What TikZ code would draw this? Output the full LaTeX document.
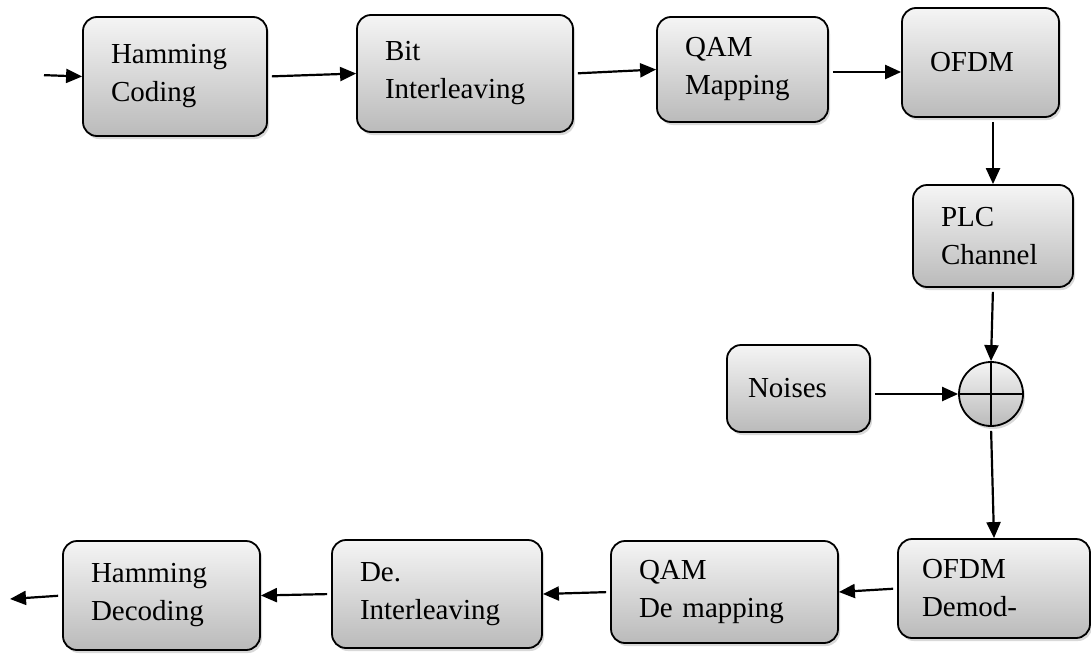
\documentclass[tikz,border=0pt]{standalone}
\usepackage{fontspec}
\setmainfont{Liberation Serif}
\usetikzlibrary{arrows.meta,shadows}

\begin{document}
\begin{tikzpicture}[
  x=0.5pt, y=-0.5pt,
  font=\fontsize{14.5}{19}\selectfont,
  box/.style={draw, line width=0.9pt, rounded corners=7pt, align=left,
    inner xsep=14pt, inner ysep=2pt, top color=black!4, bottom color=black!27,
    drop shadow={shadow xshift=1pt, shadow yshift=-1.5pt, opacity=0.3}},
  sumnode/.style={draw, circle, line width=0.9pt, minimum size=32pt, inner sep=0pt,
    top color=black!4, bottom color=black!27,
    drop shadow={shadow xshift=1pt, shadow yshift=-1.5pt, opacity=0.3}},
  ar/.style={-{Triangle[length=8pt,width=7pt]}, line width=1.1pt, shorten <=2pt}
]
\useasboundingbox (0,0) rectangle (1091,653);
% transmitter
\node[box, text width=64pt, minimum height=59.5pt] (hc) at (175,76.5) {Hamming\\Coding};
\node[box, text width=80pt, minimum height=58.5pt] (bi) at (465,73.5) {Bit\\Interleaving};
\node[box, text width=57.5pt, minimum height=52.5pt] (qm) at (742.5,69.5) {QAM\\Mapping};
\node[box, text width=50.5pt, minimum height=54.5pt] (ofdm) at (980.5,62.5) {OFDM};
% channel
\node[box, text width=52pt, minimum height=51pt] (plc) at (993,236) {PLC\\Channel};
\node[box, inner xsep=10.5pt, text width=50.5pt, minimum height=43.5pt] (noise) at (798.5,388.5) {Noises};
\node[sumnode] (sum) at (991,394) {};
\draw[line width=0.9pt] (sum.north) -- (sum.south) (sum.west) -- (sum.east);
% receiver
\node[box, inner xsep=12pt, text width=72pt, minimum height=49.5pt] (demod) at (994,588.5) {OFDM\\Demod-};
\node[box, text width=85.5pt, minimum height=51pt] (qd) at (724.5,592) {QAM\\De mapping};
\node[box, text width=77pt, minimum height=54pt] (di) at (437,594) {De.\\Interleaving};
\node[box, text width=70.5pt, minimum height=54.5pt] (hd) at (161.5,595.5) {Hamming\\Decoding};

\coordinate (in) at (40,75);
\coordinate (out) at (10,599);

\draw[ar] (in) -- (hc.west);
\draw[ar] (hc.east) -- (bi.west);
\draw[ar] (bi.east) -- (qm.west);
\draw[ar] ([yshift=-1.25pt]qm.east) -- ([yshift=-1.25pt]qm.east -| ofdm.west);
\draw[ar] (plc.north |- ofdm.south) -- (plc.north);
\draw[ar] (plc.south) -- (sum.north);
\draw[ar] (noise.east |- sum.west) -- (sum.west);
\draw[ar] (sum.south) -- (demod.north);
\draw[ar] (demod.west) -- (qd.east);
\draw[ar] (qd.west) -- (di.east);
\draw[ar] (di.west) -- (hd.east);
\draw[ar] (hd.west) -- (out);
\end{tikzpicture}
\end{document}
